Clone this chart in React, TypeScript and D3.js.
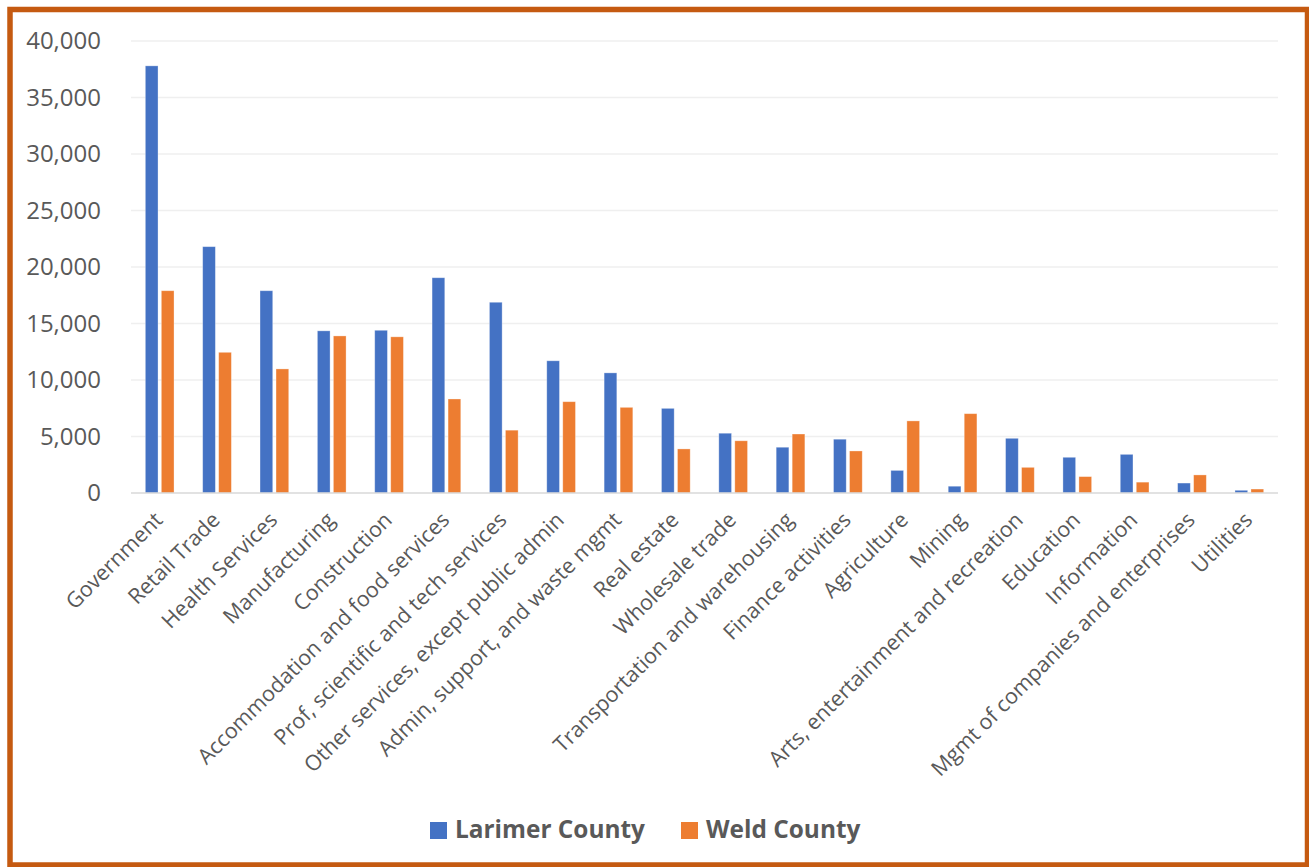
import React from "react";
import * as d3 from "d3";

const categories = [
  "Government", "Retail Trade", "Health Services", "Manufacturing", "Construction",
  "Accommodation and food services", "Prof, scientific and tech services",
  "Other services, except public admin", "Admin, support, and waste mgmt",
  "Real estate", "Wholesale trade", "Transportation and warehousing",
  "Finance activities", "Agriculture", "Mining", "Arts, entertainment and recreation",
  "Education", "Information", "Mgmt of companies and enterprises", "Utilities",
];
const larimer = [37800, 21800, 17900, 14350, 14400, 19050, 16880, 11700, 10630, 7490, 5290, 4050, 4760, 2000, 600, 4840, 3160, 3420, 880, 240];
const weld = [17900, 12450, 10980, 13900, 13820, 8320, 5560, 8080, 7580, 3900, 4620, 5220, 3720, 6380, 7020, 2270, 1450, 960, 1600, 350];
const yTicks = [0, 5000, 10000, 15000, 20000, 25000, 30000, 35000, 40000];
const seriesNames = ["Larimer County", "Weld County"];
const colors = ["#4472C4", "#ED7D31"];

export default function App() {
  const W = 1309, H = 867;
  const left = 131, right = 1278, top = 41, bottom = 493;
  const x = d3.scaleBand<string>().domain(categories).range([left, right]).paddingInner(0).paddingOuter(0);
  const y = d3.scaleLinear().domain([0, 40000]).range([bottom, top]);
  const barW = 12.7, gap = 3.3;
  const fmt = d3.format(",");
  const series = [larimer, weld];
  return (
    <svg width={W} height={H} style={{ position: "absolute", left: 0, top: 0, background: "#fff" }}>
      <rect x={0} y={0} width={W} height={H} fill="#fff" />
      {yTicks.map((t) => (
        <g key={t}>
          {t !== 0 && <line x1={left} x2={right} y1={y(t)} y2={y(t)} stroke="#EFEFEF" strokeWidth={1.5} />}
          <text x={101} y={y(t)} dy="0.35em" textAnchor="end" fontFamily="Open Sans" fontSize={24} fill="#595959">{fmt(t)}</text>
        </g>
      ))}
      {series.map((vals, si) =>
        vals.map((v, i) => {
          const cx = (x(categories[i]) as number) + x.bandwidth() / 2;
          const bx = si === 0 ? cx - gap / 2 - barW : cx + gap / 2;
          return (
            <rect key={si + "-" + i} x={bx} y={y(v)} width={barW} height={y(0) - y(v)}
              fill={colors[si]} stroke="#ffffff" strokeOpacity={0.4} strokeWidth={0.8} />
          );
        })
      )}
      <line x1={left} x2={right} y1={y(0)} y2={y(0)} stroke="#D9D9D9" strokeWidth={1.5} />
      {categories.map((c) => {
        const cx = (x(c) as number) + x.bandwidth() / 2;
        return (
          <text key={c} transform={`translate(${cx - 1},${bottom + 23}) rotate(-45)`} textAnchor="end"
            fontFamily="Open Sans" fontSize={21.5} fill="#595959" dy="0.35em">{c}</text>
        );
      })}
      {seriesNames.map((n, i) => {
        const lx = i === 0 ? 430 : 681;
        return (
          <g key={n}>
            <rect x={lx} y={822} width={17} height={17} fill={colors[i]} />
            <text x={lx + 25} y={838} fontFamily="Open Sans" fontWeight={700} fontSize={24.4} fill="#595959">{n}</text>
          </g>
        );
      })}
      <rect x={10} y={9.5} width={1297.5} height={855.5} fill="none" stroke="#C55A11" strokeWidth={5.5} />
    </svg>
  );
}
